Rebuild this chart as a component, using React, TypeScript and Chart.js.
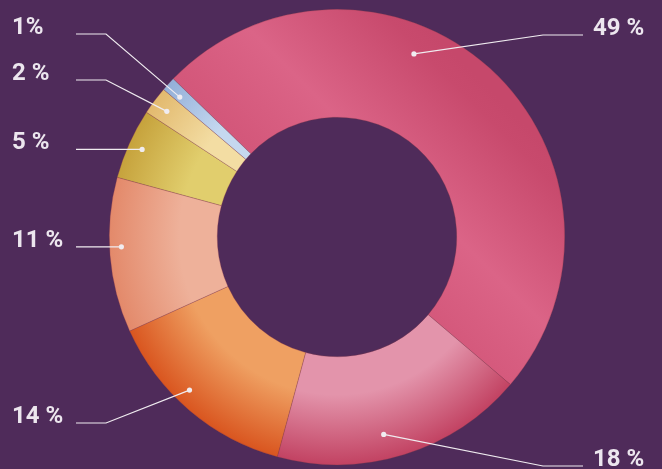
import React, { useEffect, useRef } from "react";
import { Chart, registerables } from "chart.js";

Chart.register(...registerables);

// ---- data ----
const categories = ["49 %", "18 %", "14 %", "11 %", "5 %", "2 %", "1%"];
const shares = [49, 18, 14, 11, 5, 2, 1];

// ---- styling ----
const BG = "#4F2B5A";
const innerColors = ["#DB6487", "#E394AB", "#EFA062", "#EEB19A", "#E1CE6D", "#F3DDA3", "#C5D8EF"];
const outerColors = ["#C84A6D", "#C24262", "#D9551F", "#E3896A", "#C6A23C", "#E2B96E", "#93AFD8"];
// where the leader dot sits inside each slice (fraction of angle / fraction of ring depth)
const dotAlong = [0.39, 0.56, 0.57, 0.55, 0.5, 0.45, 0.35];
const dotRadial = [0.73, 0.77, 0.86, 0.89, 0.87, 0.85, 0.84];
// leader line layout
const leaderSide = ["right", "right", "left", "left", "left", "left", "left"];
const leaderLineY: (number | null)[] = [35, 466, 423, null, null, 80, 34];

const LEFT = { elbowX: 106, endX: 76, textX: 12 };
const RIGHT = { elbowX: 543, endX: 583, textX: 593 };

function sliceFill(ctx: any) {
  const chart = ctx.chart;
  const area = chart.chartArea;
  const i = ctx.dataIndex;
  if (!area) return innerColors[i];
  const c = chart.ctx as CanvasRenderingContext2D;
  const cx = (area.left + area.right) / 2;
  const cy = (area.top + area.bottom) / 2;
  const R = Math.min(area.right - area.left, area.bottom - area.top) / 2;
  if (i === 0) {
    const g = c.createLinearGradient(cx - 50, cy + 50, cx + 150, cy - 150);
    g.addColorStop(0, "#CE5176");
    g.addColorStop(0.125, "#D05478");
    g.addColorStop(0.275, "#D4587B");
    g.addColorStop(0.55, "#DB6487");
    g.addColorStop(0.925, "#C84A6D");
    g.addColorStop(1, "#C6486B");
    return g;
  }
  const g = c.createRadialGradient(cx, cy, R * 0.526, cx, cy, R);
  g.addColorStop(0, innerColors[i]);
  g.addColorStop(0.35, innerColors[i]);
  g.addColorStop(1, outerColors[i]);
  return g;
}

const leaderPlugin = {
  id: "leaders",
  afterDatasetsDraw(chart: any) {
    const ctx = chart.ctx as CanvasRenderingContext2D;
    const meta = chart.getDatasetMeta(0);
    ctx.save();
    meta.data.forEach((arc: any, i: number) => {
      const p = arc.getProps(["x", "y", "startAngle", "endAngle", "innerRadius", "outerRadius"], true);
      const a = p.startAngle + dotAlong[i] * (p.endAngle - p.startAngle);
      const r = p.innerRadius + dotRadial[i] * (p.outerRadius - p.innerRadius);
      const dx = p.x + r * Math.cos(a);
      const dy = p.y + r * Math.sin(a);
      const L = leaderSide[i] === "left" ? LEFT : RIGHT;
      const ly = leaderLineY[i] == null ? dy : (leaderLineY[i] as number);
      ctx.strokeStyle = "#F0ECF0";
      ctx.lineWidth = 1.2;
      ctx.beginPath();
      ctx.moveTo(dx, dy);
      if (leaderLineY[i] != null) ctx.lineTo(L.elbowX, ly);
      ctx.lineTo(L.endX, ly);
      ctx.stroke();
      ctx.fillStyle = "#F0ECF0";
      ctx.beginPath();
      ctx.arc(dx, dy, 2.6, 0, Math.PI * 2);
      ctx.fill();
      ctx.fillStyle = "#ECE6EE";
      ctx.font = "700 24px Roboto";
      ctx.textAlign = "left";
      ctx.textBaseline = "alphabetic";
      ctx.fillText(categories[i], L.textX, ly);
    });
    ctx.restore();
  },
};

export default function App() {
  const ref = useRef<HTMLCanvasElement | null>(null);
  useEffect(() => {
    document.body.style.margin = "0";
    document.body.style.background = BG;
    const chart = new Chart(ref.current as HTMLCanvasElement, {
      type: "doughnut",
      data: {
        labels: categories,
        datasets: [
          {
            data: shares,
            backgroundColor: sliceFill as any,
            borderColor: "rgba(140,60,75,0.5)",
            borderWidth: 0.6,
          },
        ],
      },
      options: {
        responsive: false,
        animation: false,
        rotation: -46,
        cutout: "52.6%",
        layout: { padding: { top: 9, bottom: 4, left: 109, right: 97 } },
        plugins: {
          legend: { display: false },
          tooltip: { enabled: false },
        },
      },
      plugins: [leaderPlugin],
    });
    return () => chart.destroy();
  }, []);
  return (
    <div style={{ position: "fixed", left: 0, top: 0, width: 662, height: 469, background: BG }}>
      <canvas ref={ref} width={662} height={469} />
    </div>
  );
}
